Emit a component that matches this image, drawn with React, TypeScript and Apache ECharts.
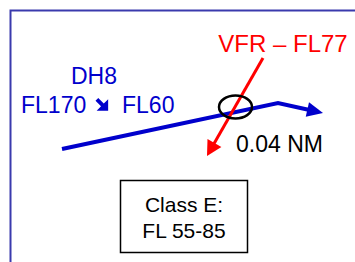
import React, { useEffect, useRef } from "react";
import * as echarts from "echarts";

// Diagram coordinates (x right, y down), in the 355x262 canvas space
const dh8Track: number[][] = [[62, 149], [278, 103], [323, 113]];
const vfrTrack: number[][] = [[263, 58], [207, 156]];
const trackColors = ["#0000cc", "#ff0000"];
const trackWidths = [4, 3];
const arrowLen = [16, 15];
const arrowHalf = [7.5, 8];
const conflictPoint: number[] = [235.5, 107];
const conflictRadii: number[] = [16.5, 11.5];

const labelDH8 = "DH8";
const labelFrom = "FL170";
const labelTo = "FL60";
const labelVFR = "VFR \u2013 FL77";
const labelSep = "0.04 NM";
const boxLines = ["Class E:", "FL 55-85"];

// heavy south-east arrow glyph outline (local units)
const seArrow: number[][] = [[0, 2.4], [2.4, 0], [7.2, 4.8], [11, 1], [11, 11], [1, 11], [4.8, 7.2]];

const tracks = [dh8Track, vfrTrack];

export default function App() {
  const ref = useRef<HTMLDivElement>(null);
  useEffect(() => {
    if (!ref.current) return;
    const chart = echarts.init(ref.current, null, { renderer: "svg" });
    const font = "'Liberation Sans', Arial, 'DejaVu Sans', sans-serif";
    chart.setOption({
      animation: false,
      backgroundColor: "#ffffff",
      grid: { left: 0, right: 0, top: 0, bottom: 0 },
      xAxis: { type: "value", min: 0, max: 355, show: false },
      yAxis: { type: "value", min: 0, max: 262, inverse: true, show: false },
      series: [
        {
          type: "custom",
          coordinateSystem: "cartesian2d",
          clip: false,
          data: tracks.map((t) => t[t.length - 1]),
          renderItem: (params: any, api: any) => {
            const i = params.dataIndex;
            const pts = tracks[i].map((p) => api.coord(p));
            const tip = pts[pts.length - 1];
            const prev = pts[pts.length - 2];
            const dx = tip[0] - prev[0];
            const dy = tip[1] - prev[1];
            const d = Math.sqrt(dx * dx + dy * dy);
            const ux = dx / d;
            const uy = dy / d;
            const L = arrowLen[i];
            const W = arrowHalf[i];
            const bx = tip[0] - L * ux;
            const by = tip[1] - L * uy;
            const nx = -uy;
            const ny = ux;
            const linePts = pts.slice(0, -1).concat([[bx + ux * 1, by + uy * 1]]);
            return {
              type: "group",
              children: [
                {
                  type: "polyline",
                  shape: { points: linePts },
                  style: { stroke: trackColors[i], lineWidth: trackWidths[i], fill: null },
                },
                {
                  type: "polygon",
                  shape: {
                    points: [
                      tip,
                      [bx + W * nx, by + W * ny],
                      [bx - W * nx, by - W * ny],
                    ],
                  },
                  style: { fill: trackColors[i], stroke: null },
                },
              ],
            };
          },
          z: 2,
        },
        {
          type: "custom",
          coordinateSystem: "cartesian2d",
          clip: false,
          data: [conflictPoint],
          renderItem: (params: any, api: any) => {
            const c = api.coord(conflictPoint);
            return {
              type: "ellipse",
              shape: { cx: c[0], cy: c[1], rx: conflictRadii[0], ry: conflictRadii[1] },
              style: { stroke: "#000000", lineWidth: 2.5, fill: null },
            };
          },
          z: 3,
        },
      ],
      graphic: [
        {
          type: "rect",
          shape: { x: 10.5, y: 10.5, width: 400, height: 300 },
          style: { stroke: "#3a3aad", lineWidth: 2, fill: null },
          z: 1,
        },
        {
          type: "text",
          x: 283,
          y: 43,
          style: { text: labelVFR, fill: "#ff0000", font: `24px ${font}`, textAlign: "center", textVerticalAlign: "middle" },
        },
        {
          type: "text",
          x: 94,
          y: 76,
          style: { text: labelDH8, fill: "#0000cc", font: `23px ${font}`, textAlign: "center", textVerticalAlign: "middle" },
        },
        {
          type: "text",
          x: 21,
          y: 105,
          style: { text: labelFrom, fill: "#0000cc", font: `23px ${font}`, textAlign: "left", textVerticalAlign: "middle" },
        },
        {
          type: "polygon",
          x: 95.5,
          y: 98,
          scaleX: 1.15,
          scaleY: 1.15,
          shape: { points: seArrow },
          style: { fill: "#0000cc", stroke: null },
        },
        {
          type: "text",
          x: 122,
          y: 105,
          style: { text: labelTo, fill: "#0000cc", font: `23px ${font}`, textAlign: "left", textVerticalAlign: "middle" },
        },
        {
          type: "text",
          x: 236,
          y: 144,
          style: { text: labelSep, fill: "#000000", font: `23px ${font}`, textAlign: "left", textVerticalAlign: "middle" },
        },
        {
          type: "rect",
          shape: { x: 120.5, y: 180.5, width: 127, height: 72 },
          style: { stroke: "#000000", lineWidth: 1.5, fill: "#ffffff" },
        },
        {
          type: "text",
          x: 184,
          y: 204.5,
          style: { text: boxLines[0], fill: "#000000", font: `21px ${font}`, textAlign: "center", textVerticalAlign: "middle" },
        },
        {
          type: "text",
          x: 184,
          y: 230,
          style: { text: boxLines[1], fill: "#000000", font: `21px ${font}`, textAlign: "center", textVerticalAlign: "middle" },
        },
      ],
    });
    return () => chart.dispose();
  }, []);
  return (
    <div
      ref={ref}
      style={{ position: "fixed", left: 0, top: 0, width: 355, height: 262, background: "#fff" }}
    />
  );
}
